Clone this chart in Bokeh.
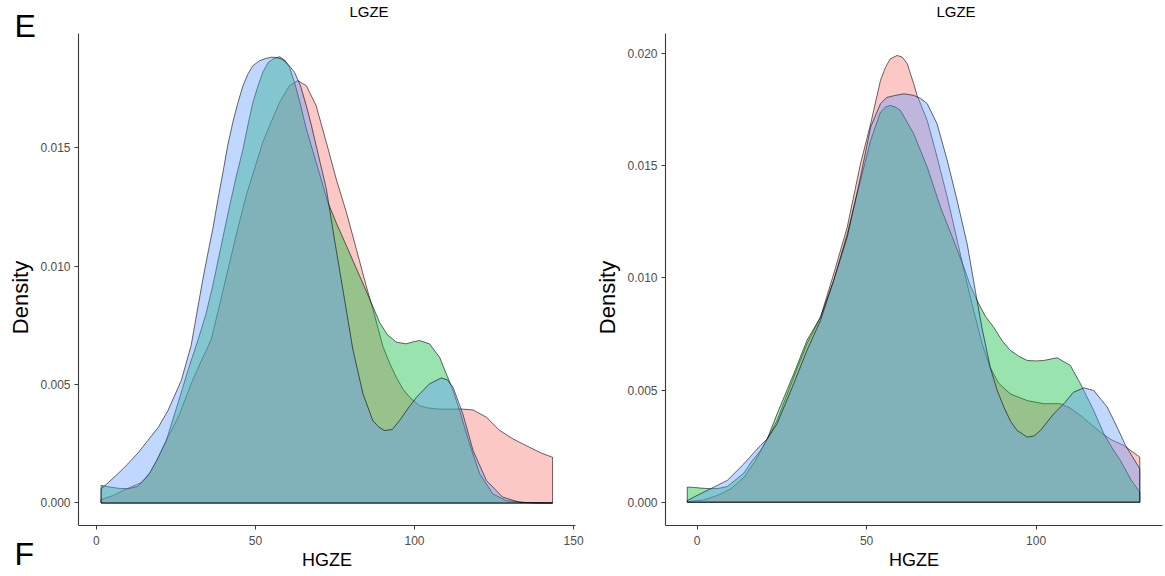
import math
from bokeh.plotting import figure
from bokeh.layouts import row, column
from bokeh.models import Range1d, FixedTicker, PrintfTickFormatter
from bokeh.core.properties import value
from bokeh.embed import file_html
from bokeh.resources import INLINE

# ---------------- data: left panel (x = HGZE, y = density) ----------------
red_a_x = [1.5, 5, 8, 11, 14, 17, 19, 22, 26, 30, 33, 36.1, 39, 41.9, 44.5, 47.1, 49.7, 52.3,
           55, 57.6, 60.7, 63.3, 66, 69.1, 72.3, 75.4, 78.6, 81.7, 84.8, 87.5, 90.1, 92.2, 94.3,
           96.4, 98.5, 101.6, 104, 106.8, 110.5, 114.2, 118.4, 122.6, 126.8, 130.9, 136.2, 140, 143.4]
red_a_y = [0.00015, 0.0003, 0.0005, 0.00068, 0.00085, 0.0013, 0.0018, 0.00264, 0.0037, 0.0051,
           0.0060, 0.0069, 0.0085, 0.01016, 0.0116, 0.01297, 0.0141, 0.01522, 0.0161, 0.01691,
           0.01762, 0.01783, 0.01762, 0.01677, 0.01522, 0.01368, 0.01227, 0.01073, 0.00918,
           0.0079, 0.0066, 0.0059, 0.0053, 0.0048, 0.00446, 0.00411, 0.00402, 0.00397, 0.00396,
           0.00397, 0.00393, 0.00362, 0.00306, 0.00271, 0.00235, 0.0021, 0.00193]

green_a_x = [1.5, 4, 7, 10, 13, 16, 19, 22, 25.6, 28.8, 32, 34.5, 36.6, 39.3, 41.9, 44, 46.1,
             47.7, 49.2, 50.8, 52.3, 54, 55.5, 57.6, 59.2, 60.7, 62.3, 64.2, 66, 69.1, 72.8, 75.5,
             78.6, 82.7, 85.9, 89, 91.5, 94.3, 97.4, 99.5, 101.6, 104.7, 107.9, 110, 112.1, 114.2,
             117.3, 120.5, 124.6, 128.8, 135, 143.4]
green_a_y = [0.00074, 0.00068, 0.00062, 0.0006, 0.0007, 0.0011, 0.0018, 0.00264, 0.00419, 0.0056,
             0.0069, 0.0080, 0.00918, 0.0109, 0.01255, 0.0138, 0.01494, 0.0160, 0.01691, 0.0176,
             0.01818, 0.0186, 0.01874, 0.01884, 0.0187, 0.01839, 0.01776, 0.0168, 0.01579, 0.01438,
             0.01269, 0.0118, 0.01086, 0.0096, 0.00862, 0.00763, 0.0071, 0.00679, 0.00672, 0.0068,
             0.00686, 0.00672, 0.00615, 0.00545, 0.00475, 0.0039, 0.0025, 0.00123, 0.00039, 0.0001,
             0.00002, 0.0]

blue_a_x = [1.5, 3.1, 6.5, 9.9, 13, 16.2, 19.5, 22.5, 26.7, 29.8, 31.7, 33.5, 35, 36.6, 38.2, 39.8,
            41.3, 42.9, 44.5, 46.1, 47.6, 49.2, 51.3, 53.4, 55, 56.6, 58.2, 59.7, 61, 62.3, 64.2, 66,
            67.5, 69.1, 72.3, 75, 78, 80.6, 83.8, 86.9, 88.8, 90.6, 93, 95.3, 98, 100.6, 104.7,
            108.4, 110.3, 112.1, 115.2, 118.4, 122.6, 127.7, 133, 138, 143.4]
blue_a_y = [0.0006, 0.00078, 0.0012, 0.00165, 0.0021, 0.00264, 0.0032, 0.0039, 0.00517, 0.00665,
            0.0081, 0.00946, 0.0105, 0.01157, 0.0128, 0.01396, 0.0151, 0.01607, 0.0169, 0.01762,
            0.0181, 0.01846, 0.01867, 0.01877, 0.01882, 0.01881, 0.01874, 0.0186, 0.0184, 0.01818,
            0.0176, 0.01677, 0.0160, 0.01508, 0.01326, 0.0110, 0.0086, 0.0065, 0.00461, 0.00348,
            0.0032, 0.00306, 0.0031, 0.00348, 0.0040, 0.00446, 0.00503, 0.00528, 0.0052, 0.00489,
            0.00376, 0.00222, 0.00095, 0.00025, 0.00003, 0.0, 0.0]

# ---------------- data: right panel ----------------
red_b_x = [-2.9, 2, 6, 10, 13.8, 17, 20.7, 23.6, 28.5, 32.4, 36.4, 40.3, 44.3, 48.2, 51.2, 54.1,
           55.6, 57, 59, 60.5, 62, 63.9, 64.9, 67.9, 70.8, 73.8, 76.7, 79.7, 82, 84, 86.5, 89,
           92.4, 97.4, 102.3, 107.2, 110, 113.1, 116, 119, 122, 125.9, 130.6]
red_b_y = [0.00002, 0.0001, 0.0003, 0.0006, 0.0011, 0.0018, 0.00282, 0.00364, 0.00558, 0.00706,
           0.00825, 0.01018, 0.01227, 0.01509, 0.01687, 0.01881, 0.0194, 0.01977, 0.01992, 0.01985,
           0.01955, 0.01866, 0.01814, 0.01702, 0.01539, 0.0136, 0.0117, 0.0097, 0.0083, 0.0071,
           0.006, 0.0053, 0.00483, 0.00453, 0.00439, 0.00439, 0.0042, 0.00387, 0.0035, 0.00312,
           0.0028, 0.00253, 0.00201]

green_b_x = [-2.9, -1, 1, 4, 6.5, 8.9, 11, 13.8, 16, 18.7, 20.7, 23.6, 28.5, 32.4, 36.4, 40.3,
             44.3, 48.2, 51.2, 54.1, 55.6, 57, 58.5, 60, 63.9, 67.9, 71.8, 75.7, 78.7, 80.5, 82.6,
             85, 87.5, 90, 92.4, 95, 97.4, 100, 102.3, 106.2, 110.1, 113.1, 115, 117, 120, 122.5,
             124.9, 128, 130.6]
green_b_y = [0.00067, 0.00066, 0.00063, 0.0006, 0.00062, 0.0007, 0.00095, 0.0013, 0.0018, 0.0023,
             0.00282, 0.00394, 0.00572, 0.00721, 0.00825, 0.00989, 0.01197, 0.01435, 0.01613,
             0.0174, 0.01762, 0.01769, 0.01762, 0.01747, 0.01643, 0.01494, 0.01316, 0.01167,
             0.01048, 0.0097, 0.009, 0.0083, 0.0078, 0.0072, 0.00677, 0.0065, 0.00632, 0.0063,
             0.00632, 0.00644, 0.0061, 0.00528, 0.0047, 0.00409, 0.00305, 0.0024, 0.00186, 0.001,
             0.00045]

blue_b_x = [-2.9, 0, 4, 8.9, 13.8, 18.7, 20.7, 23.6, 28.5, 32.4, 36.4, 40.3, 44.3, 48.2, 51.2,
            54.1, 56, 58.5, 61, 63.9, 66, 67.9, 70.8, 73.8, 76.7, 79.7, 82, 84, 86.5, 88.5, 90.5,
            92.5, 94.4, 97.4, 99.4, 101.3, 105.2, 108.2, 111, 114.1, 117, 121, 123.9, 126.4, 130.6]
blue_b_y = [0.00007, 0.0003, 0.0006, 0.00097, 0.00171, 0.00253, 0.00282, 0.0035, 0.00528, 0.00676,
            0.0081, 0.00989, 0.01182, 0.0145, 0.01673, 0.01777, 0.01805, 0.01814, 0.01821, 0.01814,
            0.018, 0.01777, 0.01687, 0.01524, 0.01346, 0.0115, 0.0095, 0.0078, 0.006, 0.005,
            0.00424, 0.0036, 0.0032, 0.0029, 0.00295, 0.0032, 0.00394, 0.00439, 0.0049, 0.0051,
            0.00498, 0.00424, 0.00335, 0.00253, 0.00149]

x_ticks_a = [0, 50, 100, 150]
x_ticks_b = [0, 50, 100]
y_ticks_a = [0.0, 0.005, 0.010, 0.015]
y_ticks_b = [0.0, 0.005, 0.010, 0.015, 0.020]

panel_title = "LGZE"
x_title = "HGZE"
y_title = "Density"

COLORS = ["#F8766D", "#00BA38", "#619CFF"]
FONT = "Liberation Sans"
H = 576          # full height
TITLE_H = 22     # strip above each panel holding its title
FRAME_TOP = 33   # canvas y of frame top
FRAME_H = 492
BOTTOM = 525     # canvas y of frame bottom


def text_strip(width, height, items):
    """A blank strip (pixel coordinates, y downward) carrying texts, each centred on y."""
    s = figure(frame_width=width, frame_height=height, min_border=0, title=None,
               x_range=Range1d(0, width), y_range=Range1d(height, 0),
               x_axis_location=None, y_axis_location=None,
               output_backend="svg", toolbar_location=None)
    s.outline_line_color = None
    s.background_fill_color = "white"
    s.border_fill_color = "white"
    s.xgrid.visible = False
    s.ygrid.visible = False
    for txt, x, y, size, angle, align in items:
        s.text(x=[x], y=[y], text=[txt], angle=angle, text_font=value(FONT),
               text_font_size=size, text_color="black", text_align=align,
               text_baseline="middle")
    return s


def make_panel(series, xr, yr, xt, yt, left, right, frame_w):
    p = figure(frame_width=frame_w, frame_height=FRAME_H, title=None,
               min_border_left=left, min_border_right=right,
               min_border_top=FRAME_TOP - TITLE_H, min_border_bottom=H - BOTTOM,
               x_range=Range1d(*xr), y_range=Range1d(*yr),
               output_backend="svg", toolbar_location=None)
    p.background_fill_color = "white"
    p.border_fill_color = "white"
    p.outline_line_color = None
    p.xgrid.visible = False
    p.ygrid.visible = False

    for (xs, ys), col in zip(series, COLORS):
        px = list(xs) + [xs[-1], xs[0]]
        py = list(ys) + [0.0, 0.0]
        p.patch(px, py, fill_color=col, fill_alpha=0.4,
                line_color="black", line_alpha=0.65, line_width=0.9)

    for ax in (p.xaxis[0], p.yaxis[0]):
        ax.axis_line_color = "#3a3a3a"
        ax.axis_line_width = 1.1
        ax.major_tick_line_color = "#3a3a3a"
        ax.major_tick_in = 0
        ax.major_tick_out = 4
        ax.minor_tick_line_color = None
        ax.major_label_text_font = FONT
        ax.major_label_text_font_size = "12px"
        ax.major_label_text_color = "#4D4D4D"
        ax.axis_label_text_font = FONT
        ax.axis_label_text_font_style = "normal"
        ax.axis_label_text_color = "black"
    p.xaxis.ticker = FixedTicker(ticks=xt)
    p.yaxis.ticker = FixedTicker(ticks=yt)
    p.yaxis.formatter = PrintfTickFormatter(format="%.3f")
    p.xaxis.major_label_standoff = 6
    p.yaxis.major_label_standoff = 4
    p.xaxis.axis_label = x_title
    p.xaxis.axis_label_text_font_size = "18px"
    p.xaxis.axis_label_standoff = 2
    return p


# ---- left block (canvas x 0..590) ----
S1_W = 36
P1_LEFT, P1_RIGHT, P1_W = 42, 15, 497
s1 = text_strip(S1_W, H, [
    ("E", 14, 25, "32px", 0, "left"),
    (y_title, 20, 297, "22px", math.pi / 2, "center"),
    ("F", 14, 553, "32px", 0, "left"),
])
p1 = make_panel([(red_a_x, red_a_y), (green_a_x, green_a_y), (blue_a_x, blue_a_y)],
                (-5.6, 150.6), (-0.00095, 0.01982), x_ticks_a, y_ticks_a,
                P1_LEFT, P1_RIGHT, P1_W)
t1 = text_strip(P1_LEFT + P1_W + P1_RIGHT, TITLE_H, [
    (panel_title, P1_LEFT + P1_W / 2, 10.8, "15px", 0, "center"),
])

# ---- right block (canvas x 590..1165) ----
S2_W = 33
P2_LEFT, P2_RIGHT, P2_W = 42, 3, 497
s2 = text_strip(S2_W, H, [
    (y_title, 17, 297, "22px", math.pi / 2, "center"),
])
p2 = make_panel([(red_b_x, red_b_y), (green_b_x, green_b_y), (blue_b_x, blue_b_y)],
                (-9.32, 137.3), (-0.00104, 0.0209), x_ticks_b, y_ticks_b,
                P2_LEFT, P2_RIGHT, P2_W)
t2 = text_strip(P2_LEFT + P2_W + P2_RIGHT, TITLE_H, [
    (panel_title, P2_LEFT + P2_W / 2, 10.8, "15px", 0, "center"),
])

layout = row(s1, column(t1, p1), s2, column(t2, p2))
open("out.html", "w").write(file_html(layout, INLINE))
